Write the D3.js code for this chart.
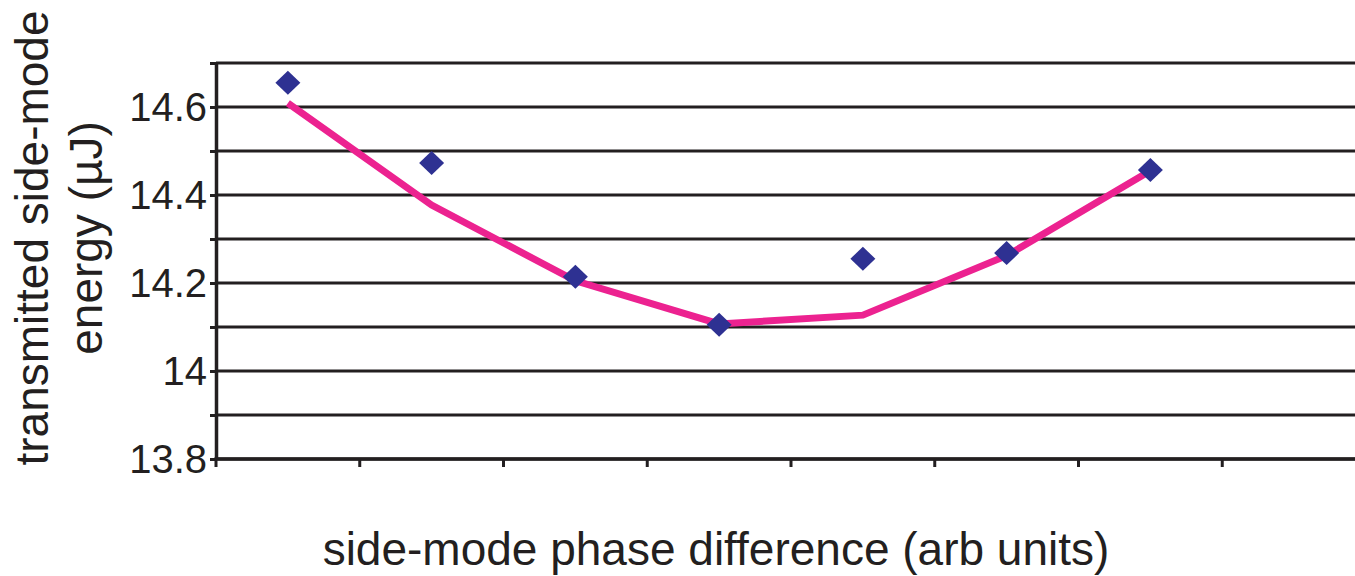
<!DOCTYPE html>
<html>
<head>
<meta charset="utf-8">
<script src="https://cdn.jsdelivr.net/npm/d3@7"></script>
<style>
  html, body { margin: 0; padding: 0; background: #fff; }
  svg { display: block; font-family: "Liberation Sans", Arial, Helvetica, sans-serif; }
</style>
</head>
<body>
<svg id="chart" width="1355" height="576"></svg>
<script>
// Category slots along the x axis (the last slot is empty)
const categories = [1, 2, 3, 4, 5, 6, 7, 8];
// Measured side-mode energy (µJ), one per phase setting
const measured = [14.655, 14.473, 14.214, 14.105, 14.255, 14.268, 14.457];
// Fitted curve through the same phase settings
const fitted = [14.609, 14.377, 14.205, 14.107, 14.127, 14.262, 14.455];
// Y ticks: gridlines every 0.1, labels every 0.2
const yGridTicks = [13.8, 13.9, 14.0, 14.1, 14.2, 14.3, 14.4, 14.5, 14.6, 14.7];
const yLabelTicks = [13.8, 14.0, 14.2, 14.4, 14.6];
const yTickText = ["13.8", "14", "14.2", "14.4", "14.6"];

const svg = d3.select("#chart");
const ink = "#231f20";
const plotLeft = 216, plotRight = 1366, plotTop = 63, plotBottom = 459;

const x = d3.scaleBand().domain(categories).range([plotLeft, plotRight]).padding(0);
const y = d3.scaleLinear().domain([13.8, 14.7]).range([plotBottom, plotTop]);

// horizontal gridlines
svg.append("g")
  .selectAll("line")
  .data(yGridTicks)
  .join("line")
  .attr("x1", plotLeft).attr("x2", plotRight)
  .attr("y1", d => y(d)).attr("y2", d => y(d))
  .attr("stroke", ink).attr("stroke-width", 3.2);

// y axis with minor ticks every 0.1
const yAxis = svg.append("g")
  .attr("transform", `translate(${plotLeft},0)`)
  .call(d3.axisLeft(y).tickValues(yGridTicks).tickSize(6).tickSizeOuter(0).tickFormat(""));
yAxis.select(".domain").attr("stroke", ink).attr("stroke-width", 3.5);
yAxis.selectAll(".tick line").attr("stroke", ink).attr("stroke-width", 3);

// y tick labels
svg.append("g")
  .selectAll("text")
  .data(yLabelTicks)
  .join("text")
  .attr("x", 207)
  .attr("y", d => y(d))
  .attr("dy", "0.36em")
  .attr("text-anchor", "end")
  .attr("font-size", 40)
  .attr("fill", ink)
  .text((d, i) => yTickText[i]);

// x axis with ticks at category boundaries
const boundaries = categories.map(c => x(c)).concat([x(categories[categories.length - 1]) + x.bandwidth()]);
svg.append("g")
  .selectAll("line")
  .data(boundaries)
  .join("line")
  .attr("x1", d => d).attr("x2", d => d)
  .attr("y1", plotBottom).attr("y2", plotBottom + 8)
  .attr("stroke", ink).attr("stroke-width", 3);
svg.append("line")
  .attr("x1", plotLeft - 1.5).attr("x2", plotRight)
  .attr("y1", plotBottom).attr("y2", plotBottom)
  .attr("stroke", ink).attr("stroke-width", 3.5);

const cx = i => x(categories[i]) + x.bandwidth() / 2;

// fitted curve
svg.append("path")
  .datum(fitted)
  .attr("fill", "none")
  .attr("stroke", "#ec2290")
  .attr("stroke-width", 7)
  .attr("stroke-linejoin", "miter")
  .attr("d", d3.line().x((d, i) => cx(i)).y(d => y(d)));

// measured points as diamonds
svg.append("g")
  .selectAll("path")
  .data(measured)
  .join("path")
  .attr("transform", (d, i) => `translate(${cx(i)},${y(d)})`)
  .attr("d", "M0,-12L12.5,0L0,12L-12.5,0Z")
  .attr("fill", "#2e3192");

// axis titles
svg.append("text")
  .attr("x", 716).attr("y", 565)
  .attr("text-anchor", "middle")
  .attr("font-size", 46)
  .attr("fill", ink)
  .text("side-mode phase difference (arb units)");

const yTitle = svg.append("text")
  .attr("transform", "translate(0,238) rotate(-90)")
  .attr("text-anchor", "middle")
  .attr("font-size", 46)
  .attr("fill", ink);
yTitle.append("tspan").attr("x", 0).attr("y", 48).text("transmitted side-mode");
yTitle.append("tspan").attr("x", 0).attr("y", 102).text("energy (µJ)");
</script>
</body>
</html>
